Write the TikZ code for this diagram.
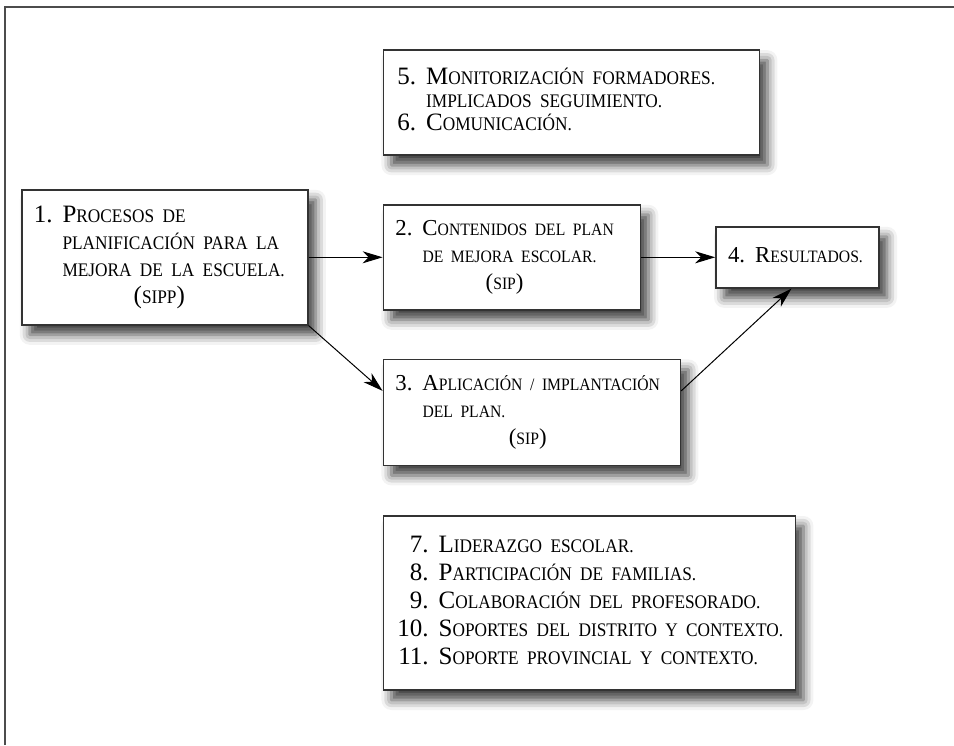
\documentclass[tikz,border=0pt]{standalone}
\usepackage{fontspec}
\setmainfont{Liberation Serif}
\newfontfamily\smfont[FakeStretch=0.9]{Liberation Serif}
\usetikzlibrary{arrows.meta,positioning,calc,shadows.blur}
\def\smsize{9.6}
\newcommand\smcap[1]{{\smfont\fontsize{\smsize}{10}\selectfont #1}}
\tikzset{
  box/.style={rectangle, draw=black!80, line width=0.8pt, fill=white,
    inner xsep=6pt, inner ysep=2pt, align=left,
    font=\fontsize{12.5}{13.5}\selectfont,
    blur shadow={shadow xshift=4pt, shadow yshift=-5pt,
                 shadow blur radius=5pt, shadow opacity=75}},
  small/.style={font={\fontsize{11.4}{13.5}\selectfont\def\smsize{8.7}}},
  arr/.style={-{Stealth[length=10pt,width=6pt,inset=3pt]}, line width=0.5pt},
  frame/.style={draw=black!70, line width=1pt}
}

\begin{document}
\begin{tikzpicture}[x=0.5pt, y=-0.5pt, node distance=37pt]
  \useasboundingbox (0,0) rectangle (954,745);
  \draw[frame] (5,745) -- (5,7) -- (954,7);

  % main row
  \node[box, anchor=north west, text width=131pt, minimum height=67.5pt] (b1) at (21,189) {%
    \begin{tabular}{@{}r@{\hspace{5pt}}l@{}}
      1. & P\smcap{ROCESOS DE}\\
         & \smcap{PLANIFICACIÓN PARA LA}\\
         & \smcap{MEJORA DE LA ESCUELA.}\\
      \multicolumn{2}{c}{(\smcap{SIPP})}
    \end{tabular}};
  \node[box, small, right=of b1, text width=116.5pt, minimum height=52.5pt] (b2) {%
    \begin{tabular}{@{}r@{\hspace{5pt}}l@{}}
      2. & C\smcap{ONTENIDOS DEL PLAN}\\
         & \smcap{DE MEJORA ESCOLAR.}\\
      \multicolumn{2}{c}{(\smcap{SIP})}
    \end{tabular}};
  \node[box, small, right=of b2, text width=69.5pt, minimum height=30.5pt] (b4) {%
    \begin{tabular}{@{}r@{\hspace{5pt}}l@{}}
      4. & R\smcap{ESULTADOS.}
    \end{tabular}};

  % above and below
  \node[box, above right=24pt and 0pt of b2.north west, inner xsep=7pt,
        text width=174pt, minimum height=52.5pt,
        font=\fontsize{12.5}{11.5}\selectfont] (b5) {%
    \begin{tabular}{@{}r@{\hspace{5pt}}l@{}}
      5. & M\smcap{ONITORIZACIÓN FORMADORES.}\\
         & \smcap{IMPLICADOS SEGUIMIENTO.}\\
      6. & C\smcap{OMUNICACIÓN.}
    \end{tabular}};
  \node[box, small, below right=24pt and 0pt of b2.south west, text width=136.5pt,
        minimum height=53pt] (b3) {%
    \begin{tabular}{@{}r@{\hspace{5pt}}l@{}}
      3. & A\smcap{PLICACIÓN / IMPLANTACIÓN}\\
         & \smcap{DEL PLAN.}\\
      \multicolumn{2}{c}{(\smcap{SIP})}
    \end{tabular}};
  \node[box, below right=24.5pt and 0pt of b3.south west, inner xsep=7pt,
        text width=192pt, minimum height=87pt,
        font=\fontsize{12.5}{14}\selectfont] (b7) {%
    \begin{tabular}{@{}r@{\hspace{5pt}}l@{}}
      7. & L\smcap{IDERAZGO ESCOLAR.}\\
      8. & P\smcap{ARTICIPACIÓN DE FAMILIAS.}\\
      9. & C\smcap{OLABORACIÓN DEL PROFESORADO.}\\
      10. & S\smcap{OPORTES DEL DISTRITO Y CONTEXTO.}\\
      11. & S\smcap{OPORTE PROVINCIAL Y CONTEXTO.}
    \end{tabular}};

  % arrows
  \draw[arr] (b1) -- (b2);
  \draw[arr] (b2) -- (b4);
  \draw[arr] (b1.south east) -- ($(b3.north west)!0.3!(b3.south west)$);
  \draw[arr] ($(b3.north east)!0.3!(b3.south east)$) -- ($(b4.south)+(-6,0)$);
\end{tikzpicture}
\end{document}
